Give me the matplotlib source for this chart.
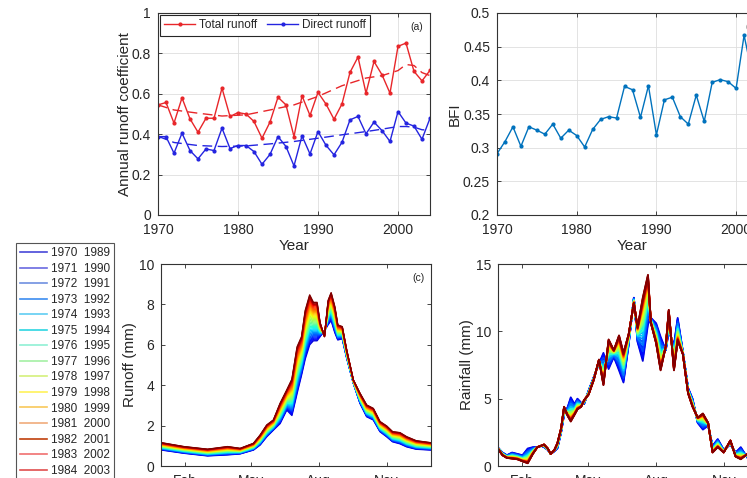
import numpy as np
import matplotlib
matplotlib.use("Agg")
import matplotlib.pyplot as plt
from matplotlib.lines import Line2D

plt.rcParams['font.family'] = ['Liberation Sans', 'DejaVu Sans']
plt.rcParams['text.color'] = '#262626'
plt.rcParams['axes.labelcolor'] = '#262626'
plt.rcParams['xtick.color'] = '#262626'
plt.rcParams['ytick.color'] = '#262626'

# ---- (a) annual runoff coefficient ----
years = np.arange(1970, 2005)
total_runoff = [0.545, 0.557, 0.455, 0.580, 0.476, 0.410, 0.479, 0.479, 0.628, 0.488,
                0.507, 0.500, 0.463, 0.380, 0.460, 0.583, 0.545, 0.388, 0.590, 0.493,
                0.607, 0.549, 0.474, 0.550, 0.706, 0.782, 0.603, 0.760, 0.694, 0.603,
                0.835, 0.851, 0.711, 0.664, 0.716]
direct_runoff = [0.388, 0.388, 0.306, 0.405, 0.319, 0.278, 0.327, 0.319, 0.430, 0.329,
                 0.344, 0.344, 0.314, 0.251, 0.300, 0.388, 0.339, 0.243, 0.392, 0.302,
                 0.413, 0.345, 0.298, 0.360, 0.471, 0.488, 0.402, 0.460, 0.418, 0.364,
                 0.512, 0.455, 0.440, 0.375, 0.479]
trend_years = [1970, 1972, 1975, 1978, 1981, 1984, 1987, 1990, 1993, 1996, 1998, 2000, 2001, 2002, 2003, 2004]
total_trend = [0.545, 0.520, 0.504, 0.490, 0.496, 0.520, 0.545, 0.587, 0.640, 0.678, 0.690, 0.715, 0.745, 0.740, 0.705, 0.690]
direct_trend = [0.390, 0.359, 0.344, 0.339, 0.342, 0.352, 0.364, 0.380, 0.397, 0.413, 0.425, 0.438, 0.438, 0.435, 0.422, 0.420]

# ---- (b) baseflow index ----
bfi = [0.291, 0.309, 0.331, 0.302, 0.331, 0.326, 0.320, 0.335, 0.314, 0.326,
       0.318, 0.301, 0.327, 0.342, 0.346, 0.344, 0.391, 0.386, 0.345, 0.392,
       0.319, 0.371, 0.375, 0.346, 0.335, 0.378, 0.339, 0.397, 0.401, 0.398,
       0.388, 0.467, 0.410, 0.420, 0.430]

# ---- (c) daily runoff: driest (blue) and wettest (dark red) profiles ----
runoff_days = [1, 31, 63, 90, 107, 125, 134, 143, 152, 161, 170, 177, 184, 190, 195, 201, 206,
               211, 215, 221, 226, 230, 235, 239, 245, 251, 260, 269, 278, 287, 296, 305, 313,
               323, 332, 345, 365]
runoff_high = [1.15, 0.96, 0.83, 0.96, 0.87, 1.12, 1.53, 2.03, 2.28, 3.10, 3.76, 4.30, 5.90,
               6.40, 7.70, 8.47, 8.10, 8.10, 7.10, 6.40, 8.20, 8.58, 7.88, 6.98, 6.90, 5.74,
               4.26, 3.60, 3.02, 2.85, 2.20, 1.98, 1.70, 1.65, 1.45, 1.25, 1.15]
runoff_low = [0.79, 0.63, 0.50, 0.55, 0.60, 0.79, 1.04, 1.45, 1.78, 2.10, 2.77, 2.50, 3.60,
              4.50, 5.30, 6.00, 6.20, 6.20, 6.40, 6.70, 7.00, 7.20, 6.60, 6.24, 6.30, 5.35,
              4.10, 3.10, 2.44, 2.28, 1.70, 1.45, 1.20, 1.10, 0.95, 0.83, 0.79]
runoff_weight = [0.00, 0.04, 0.07, 0.10, 0.13, 0.16, 0.19, 0.22, 0.25, 0.28, 0.31, 0.34,
                 0.37, 0.40, 0.43, 0.46, 0.49, 0.52, 0.55, 0.58, 0.61, 0.64, 0.67, 0.70,
                 0.73, 0.76, 0.79, 0.82, 0.85, 0.88, 0.91, 0.93, 0.95, 0.98, 1.00]

# ---- (d) daily rainfall profiles ----
rain_days = [1, 6, 12, 19, 26, 33, 40, 47, 53, 58, 62, 67, 71, 76, 80, 85, 89, 94, 98, 103,
             107, 112, 116, 122, 129, 136, 142, 149, 156, 163, 169, 176, 183, 188, 195, 202,
             206, 213, 219, 226, 230, 237, 242, 249, 256, 262, 269, 276, 283, 289, 296, 304,
             313, 320, 327, 336, 345, 355, 365]
rain_red = [1.2, 0.8, 0.6, 0.55, 0.5, 0.35, 0.2, 0.9, 1.4, 1.5, 1.6, 1.3, 0.9, 1.2, 1.7, 2.8,
            4.4, 3.7, 3.3, 3.8, 4.2, 4.4, 4.9, 5.3, 6.4, 7.9, 6.0, 9.4, 8.6, 9.7, 8.4, 9.8,
            12.1, 10.3, 12.5, 14.2, 10.6, 9.1, 7.1, 8.9, 11.6, 7.1, 9.3, 8.3, 5.4, 4.4, 3.6,
            3.9, 3.2, 1.0, 1.4, 1.0, 1.9, 0.7, 0.5, 0.9, 0.8, 1.1, 1.0]
rain_blue = [1.3, 1.0, 0.8, 1.0, 0.9, 0.8, 1.3, 1.4, 1.4, 1.5, 1.4, 1.2, 0.9, 1.1, 1.3, 2.5,
             3.8, 4.4, 5.1, 4.6, 5.0, 4.7, 4.6, 5.6, 6.6, 7.6, 8.4, 7.2, 8.1, 7.1, 6.2, 9.0,
             12.5, 9.2, 7.8, 10.5, 11.0, 10.6, 9.6, 8.6, 10.0, 9.0, 11.0, 8.5, 5.8, 5.0, 3.2,
             2.7, 3.0, 1.5, 2.0, 1.2, 1.6, 1.0, 1.4, 0.6, 1.0, 0.9, 1.2]
rain_weight = [0.00, 0.10, 0.05, 0.20, 0.15, 0.30, 0.25, 0.35, 0.45, 0.40, 0.50, 0.55,
               0.48, 0.60, 0.65, 0.58, 0.70, 0.62, 0.75, 0.80, 0.72, 0.85, 0.78, 0.90,
               0.82, 0.88, 0.95, 0.86, 0.92, 0.97, 0.90, 0.96, 0.99, 0.94, 1.00]

month_ticks = [32, 121, 213, 305]
month_labels = ['Feb', 'May', 'Aug', 'Nov']

legend_years = list(range(1970, 1989))
legend_colors = ['#4848d8', '#6a6ae0', '#7090e0', '#3c8cf0', '#60cdf2', '#2cd6e2', '#90f0d4',
                 '#a4f0a4', '#d4f07c', '#fff25a', '#f8c85a', '#f0ac7c', '#c0400c', '#f07070',
                 '#e04e4e', '#d03030', '#c02020', '#a01010', '#800000']

W, H = 747, 478


def px_axes(left, top, right, bottom):
    return fig.add_axes([left / W, 1 - bottom / H, (right - left) / W, (bottom - top) / H])


def style(ax):
    for s in ax.spines.values():
        s.set_color('#333333')
        s.set_linewidth(0.8)
    ax.tick_params(direction='in', length=3, width=0.6, top=True, right=True,
                   labelsize=10, pad=5)
    ax.tick_params(axis='x', pad=6)


fig = plt.figure(figsize=(W / 100, H / 100), dpi=100)

# (a)
ax1 = px_axes(158, 13, 430, 215)
ax1.plot(years, total_runoff, '-', color='#e8262a', lw=1, marker='.', ms=4, label='Total runoff')
ax1.plot(years, direct_runoff, '-', color='#2424e0', lw=1, marker='.', ms=4, label='Direct runoff')
ax1.plot(trend_years, total_trend, color='#e8262a', lw=1, linestyle=(0, (7, 4)))
ax1.plot(trend_years, direct_trend, color='#2424e0', lw=1, linestyle=(0, (7, 4)))
ax1.set_xlim(1970, 2004)
ax1.set_ylim(0, 1)
ax1.set_xticks([1970, 1980, 1990, 2000])
ax1.set_yticks([0, 0.2, 0.4, 0.6, 0.8, 1])
ax1.set_yticklabels(['0', '0.2', '0.4', '0.6', '0.8', '1'])
ax1.grid(True, color='#dedede', lw=0.6)
ax1.set_axisbelow(True)
style(ax1)
ax1.set_xlabel('Year', fontsize=11, labelpad=1)
ax1.set_ylabel('Annual runoff coefficient', fontsize=11, labelpad=0)
leg = ax1.legend(loc='upper left', ncol=2, fontsize=8.5, frameon=True, fancybox=False,
                 edgecolor='#262626', framealpha=1, borderaxespad=0.2, handlelength=2.6,
                 handletextpad=0.3, columnspacing=0.9, borderpad=0.35)
leg.get_frame().set_linewidth(0.8)
ax1.text(0.951, 0.93, '(a)', transform=ax1.transAxes, fontsize=7.5, ha='center', va='center')

# (b)
ax2 = px_axes(497, 13, 768, 215)
ax2.plot(years, bfi, '-', color='#0072BD', lw=1, marker='.', ms=4)
ax2.set_xlim(1970, 2004)
ax2.set_ylim(0.2, 0.5)
ax2.set_xticks([1970, 1980, 1990, 2000])
ax2.set_yticks([0.2, 0.25, 0.3, 0.35, 0.4, 0.45, 0.5])
ax2.set_yticklabels(['0.2', '0.25', '0.3', '0.35', '0.4', '0.45', '0.5'])
ax2.grid(True, color='#dedede', lw=0.6)
ax2.set_axisbelow(True)
style(ax2)
ax2.set_xlabel('Year', fontsize=11, labelpad=1)
ax2.set_ylabel('BFI', fontsize=11, labelpad=1)
ax2.text(0.94, 0.93, '(b)', transform=ax2.transAxes, fontsize=7.5, ha='center', va='center')

# (c)
colors = plt.cm.jet(np.linspace(0.08, 1.0, len(years)))
ax3 = px_axes(161, 264, 431, 466)
lo = np.array(runoff_low)
hi = np.array(runoff_high)
for i, w in enumerate(runoff_weight):
    ax3.plot(runoff_days, lo + w * (hi - lo), color=colors[i], lw=1.0)
ax3.set_xlim(0, 365)
ax3.set_ylim(0, 10)
ax3.set_xticks(month_ticks)
ax3.set_xticklabels(month_labels)
ax3.set_yticks([0, 2, 4, 6, 8, 10])
style(ax3)
ax3.set_ylabel('Runoff (mm)', fontsize=11, labelpad=1)
ax3.text(0.952, 0.93, '(c)', transform=ax3.transAxes, fontsize=7.5, ha='center', va='center')

# (d)
ax4 = px_axes(498, 264, 769, 466)
rb = np.array(rain_blue)
rr = np.array(rain_red)
for i, w in enumerate(rain_weight):
    ax4.plot(rain_days, rb + w * (rr - rb), color=colors[i], lw=1.3)
ax4.set_xlim(0, 365)
ax4.set_ylim(0, 15)
ax4.set_xticks(month_ticks)
ax4.set_xticklabels(month_labels)
ax4.set_yticks([0, 5, 10, 15])
style(ax4)
ax4.set_ylabel('Rainfall (mm)', fontsize=11, labelpad=1)

# year legend at the left
handles = [Line2D([], [], color=c, lw=1.2) for c in legend_colors]
labels = ['%d  %d' % (y, y + 19) for y in legend_years]
leg2 = fig.legend(handles, labels, loc='upper left', bbox_to_anchor=(16 / W, 1 - 243 / H),
                  fontsize=8.5, frameon=True, fancybox=False, edgecolor='#555555', framealpha=1,
                  borderaxespad=0, handlelength=2.3, handletextpad=0.3, labelspacing=0.30,
                  borderpad=0.35)
leg2.get_frame().set_linewidth(0.8)

fig.savefig('out.png', dpi=100)
